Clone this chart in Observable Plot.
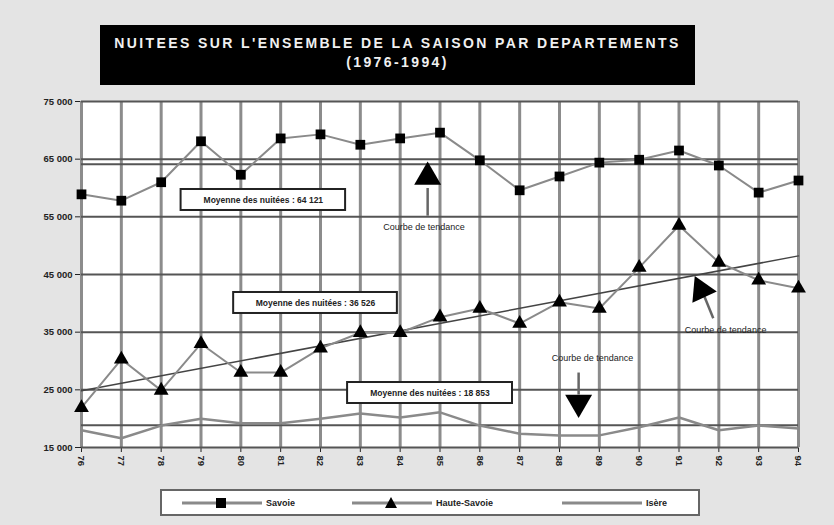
<!DOCTYPE html>
<html><head><meta charset="utf-8">
<script src="https://cdn.jsdelivr.net/npm/d3@7"></script>
<script src="https://cdn.jsdelivr.net/npm/@observablehq/plot@0.6"></script>
<style>
body{margin:0;background:#e4e4e4;font-family:"Liberation Sans",Arial,sans-serif;}
#wrap{position:relative;width:834px;height:525px;overflow:hidden;background:#e4e4e4;}
#chart{position:absolute;left:0;top:0;}
#title{position:absolute;left:100px;top:25px;width:595px;height:60px;background:#000;color:#f0f0f0;text-align:center;font-weight:bold;font-size:14px;letter-spacing:2.4px;line-height:19px;padding-top:9px;box-sizing:border-box;z-index:2;}
#legend{position:absolute;left:160px;top:489px;width:540px;height:27px;background:#fff;border:2px solid #666;box-sizing:border-box;font-size:9px;font-weight:bold;color:#222;z-index:2;}
#legend .it{position:absolute;top:4px;display:flex;align-items:center;gap:4px;}
</style></head>
<body>
<div id="wrap">
  <div id="title">NUITEES SUR L'ENSEMBLE DE LA SAISON PAR DEPARTEMENTS<br>(1976-1994)</div>
  <div id="chart"></div>
  <div id="legend"></div>
</div>
<script>
// ---- data ----
const years = [1976,1977,1978,1979,1980,1981,1982,1983,1984,1985,1986,1987,1988,1989,1990,1991,1992,1993,1994];
const savoie = [58900,57800,61000,68100,62300,68600,69300,67500,68600,69600,64800,59600,62000,64400,64900,66500,63900,59200,61300];
const hauteSavoie = [21900,30300,24900,33000,28000,28000,32200,34900,34900,37600,39100,36500,40200,39100,46200,53500,47100,44000,42600];
const isere = [18000,16600,18800,20000,19200,19200,20000,20900,20200,21100,18800,17400,17100,17100,18500,20200,18000,18800,18300];
const yTicks = [15000,25000,35000,45000,55000,65000,75000];
const seriesNames = ["Savoie","Haute-Savoie","Isère"];

const rows = years.map((y,i)=>({year:y, savoie:savoie[i], hs:hauteSavoie[i], isere:isere[i]}));
const fmt = v => d3.format(",.0f")(v).replace(/,/g," ");
const mS = d3.mean(savoie), mH = d3.mean(hauteSavoie), mI = d3.mean(isere);

// annotations in data space
const boxes = [
  {x1:1978.5, x2:1982.63, y1:56100, y2:59740, label:"Moyenne des nuitées : " + fmt(mS)},
  {x1:1979.82, x2:1983.93, y1:38240, y2:41880, label:"Moyenne des nuitées : " + fmt(mH)},
  {x1:1982.68, x2:1986.82, y1:22630, y2:26270, label:"Moyenne des nuitées : " + fmt(mI)}
];
const trendTexts = [
  {x:1984.6, y:53300},
  {x:1988.83, y:30440},
  {x:1992.17, y:35290}
];
const shafts = [
  {x1:1984.69, y1:55200, x2:1984.69, y2:60000},
  {x1:1988.48, y1:28000, x2:1988.48, y2:24200},
  {x1:1991.86, y1:37400, x2:1991.62, y2:41500}
];
const heads = [
  {x:1984.69, y:61900, rot:0},
  {x:1988.48, y:22800, rot:180},
  {x:1991.56, y:42300, rot:-25}
];

const plot = Plot.plot({
  width: 834, height: 480,
  marginLeft: 81, marginRight: 36, marginTop: 101, marginBottom: 33,
  style: {background:"transparent", fontFamily:"Liberation Sans, Arial, sans-serif", fontSize:"9.5px", fontWeight:"bold", color:"#222"},
  x: {domain:[1976,1994], ticks: years, tickFormat: d=>String(d).slice(2), tickRotate: 90, tickSize: 5, tickPadding: 3, label: null},
  y: {domain:[15000,75000], ticks: yTicks, tickFormat: fmt, tickSize: 6, tickPadding: 3, label: null},
  marks: [
    Plot.frame({fill:"white", stroke:"#777"}),
    Plot.ruleX(years, {stroke:"#8c8c8c", strokeWidth:3}),
    Plot.ruleY(yTicks, {stroke:"#555", strokeWidth:2}),
    Plot.ruleY([mS], {stroke:"#555", strokeWidth:2}),
    Plot.ruleY([mI], {stroke:"#555", strokeWidth:2}),
    Plot.linearRegressionY(rows, {x:"year", y:"hs", stroke:"#444", strokeWidth:1.5, ci:0}),
    Plot.line(rows, {x:"year", y:"isere", stroke:"#8a8a8a", strokeWidth:2.5}),
    Plot.line(rows, {x:"year", y:"hs", stroke:"#8a8a8a", strokeWidth:2}),
    Plot.dot(rows, {x:"year", y:"hs", symbol:"triangle", fill:"black", r:5.5}),
    Plot.line(rows, {x:"year", y:"savoie", stroke:"#8a8a8a", strokeWidth:2}),
    Plot.dot(rows, {x:"year", y:"savoie", symbol:"square", fill:"black", r:5.5}),
    Plot.rect(boxes, {x1:"x1", x2:"x2", y1:"y1", y2:"y2", fill:"white", stroke:"#222", strokeWidth:2}),
    Plot.text(boxes, {x:d=>(d.x1+d.x2)/2, y:d=>(d.y1+d.y2)/2, text:"label", fontSize:8.5, fontWeight:"bold", fill:"#222"}),
    Plot.text(trendTexts, {x:"x", y:"y", text:()=>"Courbe de tendance", fontSize:9, fontWeight:"normal", fill:"#222"}),
    Plot.link(shafts, {x1:"x1", y1:"y1", x2:"x2", y2:"y2", stroke:"#666", strokeWidth:2.5}),
    Plot.dot(heads, {x:"x", y:"y", symbol:"triangle", r:10, fill:"black", rotate:"rot"})
  ]
});
document.getElementById("chart").appendChild(plot);

// legend
const leg = document.getElementById("legend");
const items = [
  {left:20, name:seriesNames[0], sym:"sq"},
  {left:190, name:seriesNames[1], sym:"tri"},
  {left:400, name:seriesNames[2], sym:null}
];
items.forEach(it=>{
  const d = document.createElement("div");
  d.className = "it"; d.style.left = it.left + "px";
  let s = '<svg width="80" height="16"><line x1="0" y1="8" x2="80" y2="8" stroke="#8a8a8a" stroke-width="3"/>';
  if (it.sym==="sq") s += '<rect x="34" y="3" width="10" height="10" fill="black"/>';
  if (it.sym==="tri") s += '<path d="M39,2 L45,13 L33,13 Z" fill="black"/>';
  s += '</svg>';
  d.innerHTML = s + '<span>' + it.name + '</span>';
  leg.appendChild(d);
});
</script>
</body></html>
